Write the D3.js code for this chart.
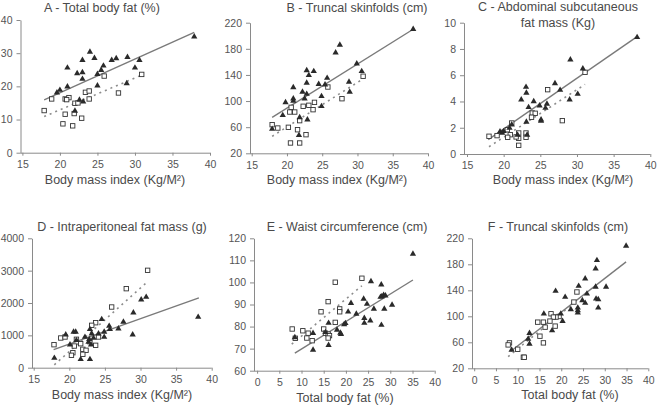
<!DOCTYPE html>
<html><head><meta charset="utf-8">
<script src="https://cdn.jsdelivr.net/npm/d3@7/dist/d3.min.js"></script>
<style>
body{margin:0;background:#fff;}
svg{display:block;font-family:"Liberation Sans",Arial,sans-serif;}
.tick text{fill:#555;font-size:10.5px;}
.domain,.tick line{stroke:#8a8a8a;}
</style></head><body>
<svg id="c" width="662" height="407"></svg>
<script>
// ---------- DATA ----------
const titles = ["A - Total body fat (%)", "B - Truncal skinfolds (cm)", ["C - Abdominal subcutaneous", "fat mass (Kg)"],
  "D - Intraperitoneal fat mass (g)", "E - Waist circumference (cm)", "F - Truncal skinfolds (cm)"];
const xLabels = ["Body mass index (Kg/M²)", "Body mass index (Kg/M²)", "Body mass index (Kg/M²)",
  "Body mass index (Kg/M²)", "Total body fat (%)", "Total body fat (%)"];

const xTicksBMI = [15, 20, 25, 30, 35, 40];
const xTicksFat = [0, 5, 10, 15, 20, 25, 30, 35, 40];
const yTicksA = [0, 10, 20, 30, 40];
const yTicksB = [20, 60, 100, 140, 180, 220];
const yTicksC = [0, 2, 4, 6, 8, 10];
const yTicksD = [0, 1000, 2000, 3000, 4000];
const yTicksE = [60, 70, 80, 90, 100, 110, 120];
const yTicksF = [20, 60, 100, 140, 180, 220];

const triA = [[37.9,35.0],[24.0,30.4],[23.0,27.9],[24.6,28.5],[26.9,27.9],[27.5,28.4],[29.0,28.8],[30.6,27.9],[21.0,25.6],[22.3,23.9],[23.0,24.2],[25.8,26.2],[25.5,24.9],[25.0,23.7],[23.0,22.2],[30.0,25.6],[21.0,19.9],[20.0,18.9],[19.6,18.1],[25.0,20.2],[28.9,20.9],[22.6,15.9],[23.1,15.4],[22.0,12.6]];
const sqA = [[18.9,16.2],[20.7,16.2],[21.2,16.6],[22.0,14.9],[22.4,15.0],[23.4,18.2],[23.9,18.6],[23.9,16.2],[25.9,23.1],[27.8,18.0],[30.9,23.6],[17.9,12.7],[20.7,11.6],[21.9,11.8],[22.9,10.4],[20.4,8.7],[21.7,8.1],[20.9,16.0]];
const triB = [[37.9,210],[27.5,186],[26.9,174],[22.8,147],[23.8,145.6],[23.1,139.5],[20.9,121],[22.8,127.7],[22.2,113.9],[22.8,110.8],[24.5,126],[25.7,135.3],[25.4,125],[29.9,157.2],[30.6,145.6],[28.8,129.2],[28.9,113.9],[24.9,107.3],[24.9,92],[20.9,103.6],[20.9,100],[19.8,98],[22.5,103.6],[19.4,78.2],[22.9,71.5],[21.8,75.1],[21.7,47.6],[17.9,57.2]];
const sqB = [[25.8,121.5],[27.8,103.6],[30.8,138],[23.1,93.5],[23.9,98],[22.3,92],[23.7,86.8],[20.6,90.4],[21.1,83.2],[20.4,83.2],[21.8,70],[17.9,63.8],[18.7,58.7],[20.2,59.8],[21.5,56.1],[22.7,48.5],[20.5,35.8],[21.8,35.8]];
const triC = [[38.2,8.89],[29.1,7.18],[30.8,6.5],[23.05,5.1],[23.1,4.65],[22.4,4.14],[24.1,4.0],[27.0,5.38],[27.7,4.87],[29.0,4.14],[30.1,4.57],[23.4,3.56],[24.9,3.68],[25.9,3.81],[25.7,3.5],[25.1,2.62],[25.1,2.52],[23.1,2.44],[21.1,2.23],[20.8,1.98],[20.0,1.73],[19.5,1.7],[19.8,1.6],[21.9,1.45],[23.2,1.45]];
const sqC = [[31.1,6.22],[26.0,4.9],[23.9,3.12],[24.3,3.1],[23.8,2.8],[28.0,2.54],[21.1,2.36],[20.5,1.85],[18.0,1.35],[19.1,1.4],[20.9,1.47],[20.55,1.27],[22.05,1.6],[22.05,1.2],[23.05,1.6],[23.05,1.27],[21.7,1.3],[22.05,0.66]];
const triD = [[38.1,1567],[30.8,2185],[30.1,2102],[29.0,1700],[28.9,1020],[27.6,1413],[26.9,1206],[25.6,1289],[25.7,1187],[24.55,1496],[22.9,1187],[24.9,1104],[24.9,949],[24.1,1051],[23.15,1051],[23.4,918],[22.2,949],[22.8,878],[22.7,794],[23.05,711],[20.6,1104],[20.9,1104],[19.5,1020],[20.1,711],[21.0,847],[17.9,300],[21.6,260],[22.9,260]];
const sqD = [[31.0,3010],[28.0,2443],[25.95,1876],[23.7,1391],[23.15,1310],[17.85,711],[18.8,918],[19.4,949],[21.0,878],[21.6,742],[20.7,670],[23.7,692],[24.1,949],[21.9,568],[22.35,538],[20.5,464],[20.3,383],[21.9,414],[22.9,804]];
const triE = [[35.1,112.9],[25.65,100.5],[27.97,99.0],[28.5,94.3],[28.1,93.7],[28.9,94.0],[27.8,93.4],[30.4,89.8],[28.65,88.0],[26.3,88.0],[24.75,90.2],[24.0,92.5],[24.15,83.8],[24.15,81.6],[25.5,82.7],[28.0,80.7],[21.15,90.6],[20.5,86.7],[22.35,85.7],[19.9,81.5],[16.1,81.6],[18.0,78.5],[18.75,77.1],[18.9,76.6],[16.1,71.6],[12.6,77.0],[12.6,69.4],[8.5,75.1],[15.4,77.4],[19.6,81.0]];
const sqE = [[23.6,101.9],[17.6,100.1],[16.0,91.3],[14.4,86.7],[18.6,88.0],[18.6,86.7],[17.6,81.9],[15.0,78.9],[15.4,77.0],[16.0,76.6],[16.3,75.9],[16.0,74.8],[7.9,78.9],[10.3,78.1],[11.5,77.0],[11.2,74.8],[12.4,73.6],[8.6,74.7]];
const triF = [[34.9,208.4],[28.2,186.2],[27.9,173.3],[25.5,157.9],[24.0,146.6],[27.9,145.1],[30.3,145.1],[18.7,138.9],[20.9,129.7],[25.9,134.7],[24.85,124.4],[25.5,120.4],[28.0,127],[28.5,126],[28.5,113.1],[22.2,110.5],[23.8,113.1],[23.8,109],[23.8,105.4],[19.9,103.9],[16.0,103.9],[20.3,92.6],[17.9,78.1],[12.7,74.1],[12.4,65.3],[12.7,57.5],[8.6,48.3]];
const sqF = [[23.6,137.4],[22.9,121.9],[17.65,103.9],[19.5,99.7],[18.8,98.8],[18.2,98.8],[17.4,92.6],[14.6,91],[15.9,91],[16.3,83.3],[18.6,84.9],[15.1,69.4],[15.9,59.1],[8.1,59.1],[7.8,56],[10.0,49.3],[11.3,37],[11.5,37]];

// fitted lines: [start, end]
const fitTri = [[[17.9,15.9],[37.9,36.3]], [[17.9,75],[37.9,210]], [[17.9,1.1],[38.1,8.9]],
                [[17.8,560],[38.2,2160]], [[8.5,68],[35.1,101.1]], [[8.4,46.3],[34.9,183.7]]];
const fitSq  = [[[17.9,10.9],[30.9,23.4]], [[17.9,46],[30.8,134]], [[18.0,0.55],[31.1,5.3]],
                [[17.9,90],[31.0,2660]], [[7.8,72],[23.6,98.5]], [[7.8,38],[23.6,124]]];

// ---------- LAYOUT ----------
const panels = [
  {ax:20.5,x0:22.4, x1:210,   xd:[15,40], yb:152.7, yt:20,    yd:[0,40],    pad:4, xt:xTicksBMI, yt2:yTicksA, tri:triA, sq:sqA, tx:102, ty:12, lx:115, ly:184},
  {ax:250, x0:251.7,x1:428,   xd:[15,40], yb:153.3, yt:22.7,  yd:[20,220],  pad:4, xt:xTicksBMI, yt2:yTicksB, tri:triB, sq:sqB, tx:357, ty:12, lx:337, ly:184},
  {ax:464, x0:467,  x1:650.3, xd:[15,40], yb:154,   yt:22.7,  yd:[0,10],    pad:4, xt:xTicksBMI, yt2:yTicksC, tri:triC, sq:sqC, tx:558, ty:11, lx:563, ly:184},
  {ax:32,  x0:33.7, x1:211.7, xd:[15,40], yb:367.7, yt:238.3, yd:[0,4000],  pad:4, xt:xTicksBMI, yt2:yTicksD, tri:triD, sq:sqD, tx:122, ty:231, lx:122, ly:399},
  {ax:254, x0:257.1,x1:434.7, xd:[0,40],  yb:370.7, yt:238.3, yd:[60,120],  pad:4, xt:xTicksFat, yt2:yTicksE, tri:triE, sq:sqE, tx:347, ty:231, lx:345, ly:402},
  {ax:472, x0:474.2,x1:648.3, xd:[0,40],  yb:368.3, yt:238.3, yd:[20,220],  pad:4, xt:xTicksFat, yt2:yTicksF, tri:triF, sq:sqF, tx:558, ty:231, lx:570, ly:399}
];

const svg = d3.select("#c");
const tri = d3.symbol().type(d3.symbolTriangle).size(17);
const line = (xs, ys) => d3.line().x(d => xs(d[0])).y(d => ys(d[1]));
const fmt = d3.format("d");

panels.forEach((p, i) => {
  const g = svg.append("g");
  const x = d3.scaleLinear().domain(p.xd).range([p.x0, p.x1]);
  const y = d3.scaleLinear().domain(p.yd).range([p.yb, p.yt]);

  // x axis
  const gx = g.append("g").attr("transform", `translate(0,${p.yb})`)
    .call(d3.axisBottom(x).tickValues(p.xt).tickFormat(fmt).tickSize(3).tickSizeOuter(0).tickPadding(5));
  gx.select(".domain").attr("d", `M${p.ax},0.5H${p.x1}`);
  // y axis
  g.append("g").attr("transform", `translate(${p.ax},0)`)
    .call(d3.axisLeft(y).tickValues(p.yt2).tickFormat(fmt).tickSize(4).tickSizeOuter(0).tickPadding(p.pad));
  g.selectAll(".domain").attr("stroke", "#8a8a8a");

  // fit lines
  g.append("path").datum(fitSq[i]).attr("d", line(x, y))
    .attr("fill", "none").attr("stroke", "#8c8c8c").attr("stroke-width", 1.6).attr("stroke-dasharray", "2,4");
  g.append("path").datum(fitTri[i]).attr("d", line(x, y))
    .attr("fill", "none").attr("stroke", "#7a7a7a").attr("stroke-width", 1.4);

  // squares
  g.selectAll("rect.sq").data(p.sq).enter().append("rect").attr("class", "sq")
    .attr("x", d => x(d[0]) - 2.2).attr("y", d => y(d[1]) - 2.2)
    .attr("width", 4.4).attr("height", 4.4)
    .attr("fill", "#fff").attr("stroke", "#333").attr("stroke-width", 0.9);
  // triangles
  g.selectAll("path.tri").data(p.tri).enter().append("path").attr("class", "tri")
    .attr("d", tri).attr("transform", d => `translate(${x(d[0])},${y(d[1])})`)
    .attr("fill", "#2a2a2a");

  // title
  const t = g.append("text").attr("x", p.tx).attr("y", p.ty).attr("text-anchor", "middle")
    .attr("fill", "#4a4a4a").style("font-size", "12.5px");
  if (Array.isArray(titles[i])) {
    titles[i].forEach((s, k) => t.append("tspan").attr("x", p.tx).attr("dy", k ? 15.5 : 0).text(s));
  } else t.text(titles[i]);
  // x label
  g.append("text").attr("x", p.lx).attr("y", p.ly).attr("text-anchor", "middle")
    .attr("fill", "#4a4a4a").style("font-size", "12.5px").text(xLabels[i]);
});
</script></body></html>
